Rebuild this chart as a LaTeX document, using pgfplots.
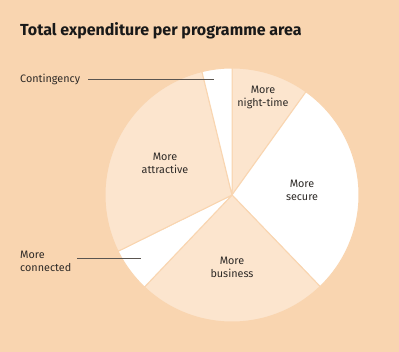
\documentclass[border=0pt]{standalone}
\usepackage{pgfplots}
\pgfplotsset{compat=1.18}
\usepackage{fontspec}
\setmainfont{Fira Sans}
\definecolor{bg}{HTML}{F9D5B0}
\definecolor{lt}{HTML}{FCE5CE}
\definecolor{ld}{HTML}{5A5550}
\definecolor{tx}{HTML}{2E2A27}
% slice values (percent), clockwise from 12 o'clock
\def\vNight{9.9}
\def\vSecure{27.9}
\def\vBusiness{24.3}
\def\vConnected{5.6}
\def\vAttractive{28.5}
\def\vContingency{3.8}
\pgfmathsetmacro\aA{90}
\pgfmathsetmacro\aB{\aA-3.6*\vNight}
\pgfmathsetmacro\aC{\aB-3.6*\vSecure}
\pgfmathsetmacro\aD{\aC-3.6*\vBusiness}
\pgfmathsetmacro\aE{\aD-3.6*\vConnected}
\pgfmathsetmacro\aF{\aE-3.6*\vAttractive}
\pgfmathsetmacro\aG{\aF-3.6*\vContingency}
\def\cx{232}
\def\cy{195}
\def\R{127}
\begin{document}
\begin{tikzpicture}
\begin{axis}[width=399bp,height=352bp,scale only axis,
  xmin=0,xmax=399,ymin=0,ymax=352,y dir=reverse,
  hide axis, clip=false]
\fill[bg] (rel axis cs:0,0) rectangle (rel axis cs:1,1);
\pgfplotsset{slice/.style={draw=bg, line width=1pt, samples=80, variable=\t, line join=round}}
\addplot[slice, fill=lt, domain=\aB:\aA] ({\cx+\R*cos(t)},{\cy-\R*sin(t)}) -- (axis cs:\cx,\cy) -- cycle;
\addplot[slice, fill=white, domain=\aC:\aB] ({\cx+\R*cos(t)},{\cy-\R*sin(t)}) -- (axis cs:\cx,\cy) -- cycle;
\addplot[slice, fill=lt, domain=\aD:\aC] ({\cx+\R*cos(t)},{\cy-\R*sin(t)}) -- (axis cs:\cx,\cy) -- cycle;
\addplot[slice, fill=white, domain=\aE:\aD] ({\cx+\R*cos(t)},{\cy-\R*sin(t)}) -- (axis cs:\cx,\cy) -- cycle;
\addplot[slice, fill=lt, domain=\aF:\aE] ({\cx+\R*cos(t)},{\cy-\R*sin(t)}) -- (axis cs:\cx,\cy) -- cycle;
\addplot[slice, fill=white, domain=\aG:\aF] ({\cx+\R*cos(t)},{\cy-\R*sin(t)}) -- (axis cs:\cx,\cy) -- cycle;
% title
\node[anchor=base west, inner sep=0pt, font=\fontsize{16bp}{18bp}\selectfont\bfseries, text=black!90] at (axis cs:20,35) {Total expenditure per programme area};
% labels
\tikzset{lab/.style={inner sep=0pt, font=\fontsize{10.8bp}{13.3bp}\selectfont, text=tx, align=center}}
\node[lab, anchor=west] at (axis cs:20,79) {Contingency};
\draw[ld, line width=0.7pt] (axis cs:88,79) -- (axis cs:214,79);
\node[lab, align=left, anchor=west] at (axis cs:20,261) {More\\connected};
\draw[ld, line width=0.7pt] (axis cs:77,258) -- (axis cs:141,258);
\node[lab] at (axis cs:263,97.5) {More\\night-time};
\node[lab] at (axis cs:302,190.5) {More\\secure};
\node[lab] at (axis cs:232,267.5) {More\\business};
\node[lab] at (axis cs:165,163.5) {More\\attractive};
\end{axis}
\end{tikzpicture}
\end{document}
